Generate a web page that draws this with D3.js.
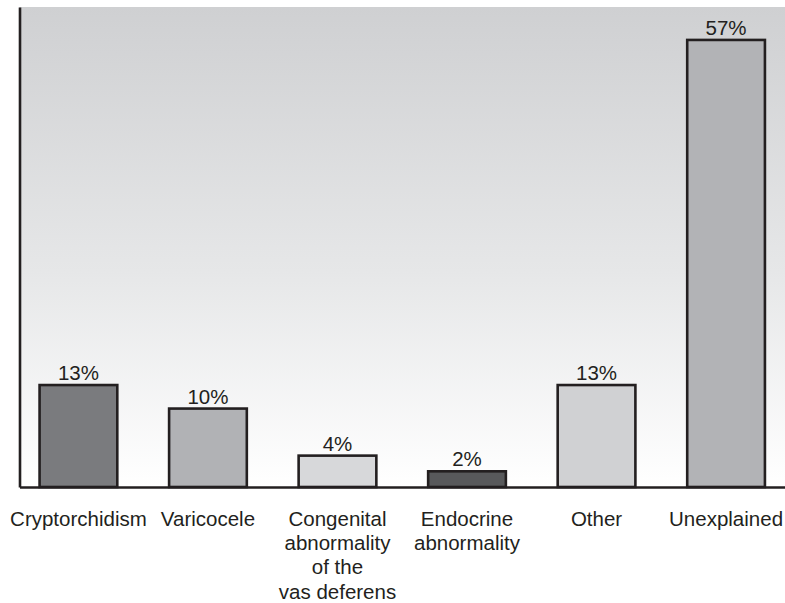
<!DOCTYPE html>
<html>
<head>
<meta charset="utf-8">
<script src="https://cdn.jsdelivr.net/npm/d3@7"></script>
<style>
  html, body { margin: 0; padding: 0; background: #fff; }
  svg { display: block; }
</style>
</head>
<body>
<svg id="chart" width="785" height="603"></svg>
<script>
// Causes of male infertility, share of cases (%)
const categories = [
  "Cryptorchidism",
  "Varicocele",
  "Congenital abnormality of the vas deferens",
  "Endocrine abnormality",
  "Other",
  "Unexplained"
];
const categoryLines = [
  ["Cryptorchidism"],
  ["Varicocele"],
  ["Congenital", "abnormality", "of the", "vas deferens"],
  ["Endocrine", "abnormality"],
  ["Other"],
  ["Unexplained"]
];
const values = [13, 10, 4, 2, 13, 57];
const valueLabels = ["13%", "10%", "4%", "2%", "13%", "57%"];
const barColors = ["#7a7b7e", "#b1b2b5", "#d7d8da", "#58595b", "#d0d1d3", "#b2b3b6"];

const plot = { left: 19.5, right: 785, top: 7, bottom: 487 };

const svg = d3.select("#chart");

// vertical grey-to-white background gradient
const defs = svg.append("defs");
const grad = defs.append("linearGradient")
  .attr("id", "bg").attr("x1", 0).attr("y1", 0).attr("x2", 0).attr("y2", 1);
grad.append("stop").attr("offset", "0%").attr("stop-color", "#cfd0d2");
grad.append("stop").attr("offset", "55%").attr("stop-color", "#e6e7e8");
grad.append("stop").attr("offset", "100%").attr("stop-color", "#ffffff");

svg.append("rect")
  .attr("x", plot.left).attr("y", plot.top)
  .attr("width", plot.right - plot.left).attr("height", plot.bottom - plot.top)
  .attr("fill", "url(#bg)");

const x = d3.scaleBand()
  .domain(categories)
  .range([plot.left, plot.right])
  .paddingInner(0.4)
  .paddingOuter(0.155);

const y = d3.scaleLinear()
  .domain([0, 61.2])
  .range([plot.bottom, plot.top]);

const data = categories.map((c, i) => ({ c, v: values[i], label: valueLabels[i], color: barColors[i], lines: categoryLines[i] }));

// bars
svg.append("g").selectAll("rect")
  .data(data).join("rect")
  .attr("x", d => x(d.c))
  .attr("y", d => y(d.v))
  .attr("width", x.bandwidth())
  .attr("height", d => y(0) - y(d.v))
  .attr("fill", d => d.color)
  .attr("stroke", "#231f20")
  .attr("stroke-width", 2.6);

// value labels
svg.append("g").selectAll("text")
  .data(data).join("text")
  .attr("x", d => x(d.c) + x.bandwidth() / 2)
  .attr("y", d => y(d.v) - 5)
  .attr("text-anchor", "middle")
  .attr("font-family", "Liberation Sans, Arial, sans-serif")
  .attr("font-size", 20.5)
  .attr("fill", "#231f20")
  .text(d => d.label);

// axis lines
const axisY = d3.axisLeft(y).tickValues([]).tickSizeOuter(0);
svg.append("g")
  .attr("transform", `translate(${plot.left},0)`)
  .call(axisY)
  .call(g => g.select(".domain").attr("stroke", "#231f20").attr("stroke-width", 2.6));

const axisX = d3.axisBottom(x).tickSize(0).tickFormat("");
svg.append("g")
  .attr("transform", `translate(0,${plot.bottom})`)
  .call(axisX)
  .call(g => g.select(".domain").attr("stroke", "#231f20").attr("stroke-width", 2.6));

// category labels (multi-line)
const cat = svg.append("g").selectAll("text")
  .data(data).join("text")
  .attr("x", d => x(d.c) + x.bandwidth() / 2)
  .attr("y", 526)
  .attr("text-anchor", "middle")
  .attr("font-family", "Liberation Sans, Arial, sans-serif")
  .attr("font-size", 20.5)
  .attr("fill", "#231f20");
cat.selectAll("tspan")
  .data(d => d.lines.map(l => ({ l, x: x(d.c) + x.bandwidth() / 2 })))
  .join("tspan")
  .attr("x", t => t.x)
  .attr("dy", (t, i) => i === 0 ? 0 : 24.2)
  .text(t => t.l);
</script>
</body>
</html>
